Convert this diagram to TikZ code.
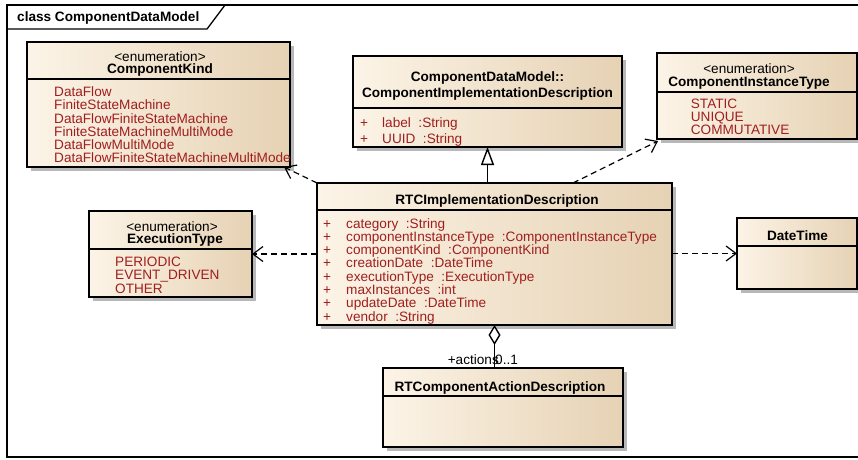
\documentclass[tikz,border=0pt]{standalone}
\usepackage{fontspec}
\setmainfont{Liberation Sans}
\usetikzlibrary{arrows.meta,shadows,calc}
\definecolor{attr}{RGB}{160,30,30}
\definecolor{fillL}{RGB}{252,244,231}
\definecolor{fillR}{RGB}{230,210,180}
\tikzset{
  classbox/.style={draw=black, line width=1.4pt, left color=fillL, right color=fillR,
    drop shadow={shadow xshift=3.5pt, shadow yshift=-3.5pt, fill=black!28, opacity=1},
    inner sep=0pt, outer sep=0pt, anchor=north west},
  sepline/.style={line width=1.4pt},
  txt/.style={font=\fontsize{13.6}{13.6}\selectfont, inner sep=0pt, anchor=base},
  ttl/.style={txt, font=\fontsize{13.6}{13.6}\selectfont\bfseries},
  item/.style={txt, anchor=base west, text=attr},
  dep/.style={dash pattern=on 6pt off 4pt, line width=1.2pt,
    -{Straight Barb[length=10pt,width=15pt,line width=1.2pt]}},
}
\begin{document}
\begin{tikzpicture}[x=1pt,y=-1pt]
\useasboundingbox (0,0) rectangle (858,459);
\clip (0,0) rectangle (858,459);
% frame
\draw[line width=1.3pt] (870,5) -- (7,5) -- (7,457) -- (870,457);
\draw[line width=1.3pt] (7,29) -- (207,29) -- (225,5);
\node[ttl, anchor=base west] (framelabel) at (17,21.4) {class ComponentDataModel};

% ComponentKind
\node[classbox, minimum width=263pt, minimum height=125pt] (kind) at (27,42) {};
\draw[sepline] (27,79) -- (290,79);
\node[txt] (kindst) at (160,61) {<enumeration>};
\node[ttl] (kindname) at (160,73.5) {ComponentKind};
\foreach \t [count=\i] in {DataFlow,FiniteStateMachine,DataFlowFiniteStateMachine,FiniteStateMachineMultiMode,DataFlowMultiMode,DataFlowFiniteStateMachineMultiMode}
  \node[item] (kind\i) at (54,{96.4+13.3*(\i-1)}) {\t};

% ComponentImplementationDescription
\node[classbox, minimum width=269pt, minimum height=91pt] (ci) at (353,56) {};
\draw[sepline] (353,108) -- (622,108);
\node[ttl] (citl1) at (487.5,81.5) {ComponentDataModel::};
\node[ttl] (citl2) at (487.5,97.5) {ComponentImplementationDescription};
\node[item] (cip1) at (360,127.5) {+};
\node[item] (cia1) at (382,127.5) {label~~:String};
\node[item] (cip2) at (360,143.5) {+};
\node[item] (cia2) at (382,143.5) {UUID~~:String};

% ComponentInstanceType
\node[classbox, minimum width=200pt, minimum height=86pt] (inst) at (657,53) {};
\draw[sepline] (657,92) -- (857,92);
\node[txt] (instst) at (749,73) {<enumeration>};
\node[ttl] (instname) at (749,86.5) {ComponentInstanceType};
\foreach \t [count=\i] in {STATIC,UNIQUE,COMMUTATIVE}
  \node[item] (inst\i) at (690.7,{108+13.4*(\i-1)}) {\t};

% RTCImplementationDescription
\node[classbox, minimum width=355pt, minimum height=142pt] (rtc) at (317,183) {};
\draw[sepline] (317,210) -- (672,210);
\node[ttl] (rtcname) at (497,204.5) {RTCImplementationDescription};
\foreach \t [count=\i] in {category~~:String,componentInstanceType~~:ComponentInstanceType,componentKind~~:ComponentKind,creationDate~~:DateTime,executionType~~:ExecutionType,maxInstances~~:int,updateDate~~:DateTime,vendor~~:String}
{
  \node[item] (rtcp\i) at (323,{228+13.3*(\i-1)}) {+};
  \node[item] (rtca\i) at (346,{228+13.3*(\i-1)}) {\t};
}

% ExecutionType
\node[classbox, minimum width=163pt, minimum height=86pt] (exec) at (89,211) {};
\draw[sepline] (89,249) -- (252,249);
\node[txt] (execst) at (172,231) {<enumeration>};
\node[ttl] (execname) at (175,243.5) {ExecutionType};
\foreach \t [count=\i] in {PERIODIC,EVENT\_DRIVEN,OTHER}
  \node[item] (exec\i) at (115,{266.4+13.3*(\i-1)}) {\t};

% DateTime
\node[classbox, minimum width=120pt, minimum height=71pt] (dt) at (737,218) {};
\draw[sepline] (737,246) -- (857,246);
\node[ttl] (dtname) at (797.5,240.5) {DateTime};

% RTCComponentActionDescription
\node[classbox, minimum width=240pt, minimum height=79pt] (act) at (383,368) {};
\draw[sepline] (383,396) -- (623,396);
\node[ttl] (actname) at (500,391.5) {RTComponentActionDescription};

% connectors
\draw[dep] (rtc.north west) -- ($(kind.south east)+(-6,0)$);
\draw[dep] ($(rtc.north west)+(256,0)$) -- ($(inst.south west)+(1,2)$);
\draw[dep] (rtc.west |- exec.east) -- (exec.east);
\draw[dep] (rtc.east |- dt.west) -- (dt.west);
\draw[line width=1.4pt, -{Triangle[open, length=18pt, width=13pt, line width=1.4pt, fill=white]}]
  (ci.south |- rtc.north) -- (ci.south);
\draw[line width=1.4pt, -{Diamond[open, length=20pt, width=12pt, line width=1.4pt, fill=white]}]
  (rtc.south |- act.north) -- (rtc.south);
\node[txt, anchor=base east] (rolelbl) at (499,364) {+actions};
\node[txt, anchor=base west] (multlbl) at (495,364) {0..1};
\end{tikzpicture}
\end{document}
